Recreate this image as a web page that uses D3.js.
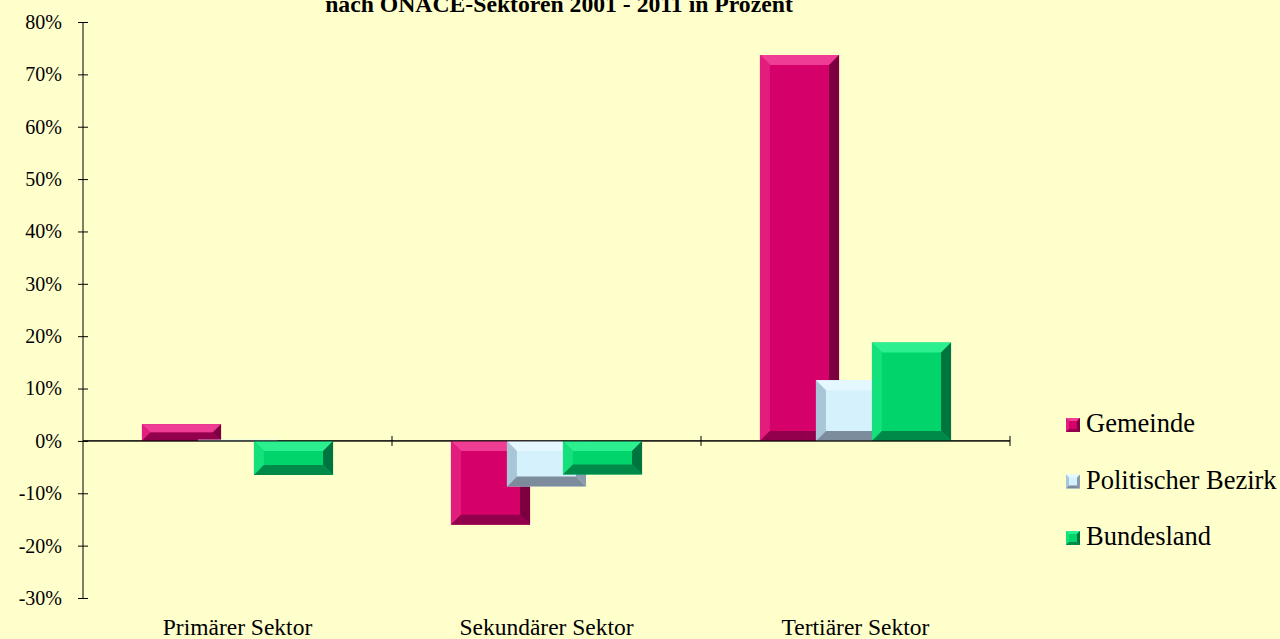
<!DOCTYPE html>
<html>
<head>
<meta charset="utf-8">
<script src="https://cdn.jsdelivr.net/npm/d3@7"></script>
<style>
  body { margin: 0; background: #ffffcc; }
  svg { display: block; font-family: "Liberation Serif", "Times New Roman", serif; }
  svg text { font-family: "Liberation Serif", "Times New Roman", serif; }
</style>
</head>
<body>
<div id="Chart"></div>
<script>
// data (percent change 2001 - 2011)
var categories = ["Primärer Sektor", "Sekundärer Sektor", "Tertiärer Sektor"];
var seriesNames = ["Gemeinde", "Politischer Bezirk", "Bundesland"];
var gemeinde = [3.2, -16.0, 73.7];
var bezirk = [0.2, -8.7, 11.6];
var bundesland = [-6.5, -6.4, 18.8];
var yTicks = [-30, -20, -10, 0, 10, 20, 30, 40, 50, 60, 70, 80];
var titleText = "nach ÖNACE-Sektoren 2001 - 2011 in Prozent";

// face / bevel colours per series
var palette = {
    "Gemeinde":           {face: "#d6006b", top: "#f03d94", left: "#e21d7e", right: "#7c0040", bottom: "#92004b"},
    "Politischer Bezirk": {face: "#d4f1fc", top: "#e6f8ff", left: "#a9c6d8", right: "#8c9cac", bottom: "#7d8c9c"},
    "Bundesland":         {face: "#00d46b", top: "#2cf08f", left: "#14e07c", right: "#00743f", bottom: "#008a4a"}
};

var W = 1280, H = 639;
var svg = d3.select("#Chart").append("svg")
    .attr("class", "chart")
    .attr("width", W)
    .attr("height", H);

svg.append("rect").attr("width", W).attr("height", H).attr("fill", "#ffffcc");

var x = d3.scaleBand().domain(categories).range([83, 1010]).padding(0);
var y = d3.scaleLinear().domain([-30, 80]).range([598, 22]);
// series offset inside a category (bars overlap)
var xs = d3.scalePoint().domain(seriesNames).range([-56, 56]);
var barW = x.bandwidth() * 0.256;

// title (its first line lies above the picture, as in the original)
svg.append("text")
    .attr("x", 559)
    .attr("y", 12)
    .attr("text-anchor", "middle")
    .style("font-size", "23.7px")
    .style("font-weight", "bold")
    .text(titleText);

// y axis
var yaxis = svg.append("g")
    .attr("transform", "translate(83,0)")
    .call(d3.axisLeft(y).tickValues(yTicks).tickSize(5).tickFormat(d => d + "%"));
yaxis.attr("font-family", null).attr("font-size", null);
yaxis.select(".domain").attr("d", "M0," + y(80) + "V" + y(-30)).attr("stroke", "#000");
yaxis.selectAll(".tick line").attr("x1", -5).attr("x2", 5).attr("stroke", "#000");
yaxis.selectAll(".tick text")
    .attr("x", -21)
    .style("font-size", "20px")
    .attr("fill", "#000");

// category axis on the zero line
var xaxis = svg.append("g").attr("transform", "translate(0," + y(0) + ")");
xaxis.append("line")
    .attr("x1", 83).attr("x2", 1010)
    .attr("stroke", "#000");
xaxis.selectAll("line.tick")
    .data(categories)
    .enter()
    .append("line")
    .attr("class", "tick")
    .attr("x1", d => x(d) + x.bandwidth()).attr("x2", d => x(d) + x.bandwidth())
    .attr("y1", -5).attr("y2", 5)
    .attr("stroke", "#000");

svg.selectAll("text.catlabel")
    .data(categories)
    .enter()
    .append("text")
    .attr("class", "catlabel")
    .attr("x", d => x(d) + x.bandwidth() / 2)
    .attr("y", 635)
    .attr("text-anchor", "middle")
    .style("font-size", "23.5px")
    .text(d => d);

// bevelled box
function bevelBox(g, x0, y0, w, h, c, maxB) {
    var b = Math.min(maxB, w / 2, h / 2);
    var x1 = x0 + w, y1 = y0 + h;
    g.append("rect").attr("x", x0).attr("y", y0).attr("width", w).attr("height", h).attr("fill", c.face);
    if (b < 0.5) return;
    var pts = function(a) { return a.map(p => p.join(",")).join(" "); };
    g.append("polygon").attr("fill", c.top)
        .attr("points", pts([[x0, y0], [x1, y0], [x1 - b, y0 + b], [x0 + b, y0 + b]]));
    g.append("polygon").attr("fill", c.left)
        .attr("points", pts([[x0, y0], [x0 + b, y0 + b], [x0 + b, y1 - b], [x0, y1]]));
    g.append("polygon").attr("fill", c.right)
        .attr("points", pts([[x1, y0], [x1, y1], [x1 - b, y1 - b], [x1 - b, y0 + b]]));
    g.append("polygon").attr("fill", c.bottom)
        .attr("points", pts([[x0, y1], [x0 + b, y1 - b], [x1 - b, y1 - b], [x1, y1]]));
}

var seriesData = [gemeinde, bezirk, bundesland];
var plot = svg.append("g");
seriesNames.forEach(function(name, si) {
    seriesData[si].forEach(function(v, ci) {
        var cx = x(categories[ci]) + x.bandwidth() / 2 + xs(name);
        var top = y(Math.max(0, v)), bot = y(Math.min(0, v));
        bevelBox(plot.append("g"), cx - barW / 2, top, barW, Math.max(1, bot - top), palette[name], 10);
    });
});

// redraw the zero line over the bars
svg.append("line")
    .attr("x1", 83).attr("x2", 1010)
    .attr("y1", y(0)).attr("y2", y(0))
    .attr("stroke", "#000");

// legend
var legend = svg.selectAll("g.legend")
    .data(seriesNames)
    .enter()
    .append("g")
    .attr("class", "legend")
    .attr("transform", (d, i) => "translate(1066," + (418 + i * 56.5) + ")");
legend.each(function(d) { bevelBox(d3.select(this), 0, 0, 14, 14, palette[d], 3); });
legend.append("text")
    .attr("x", 20)
    .attr("y", 14)
    .style("font-size", "26.5px")
    .text(d => d);
</script>
</body>
</html>
